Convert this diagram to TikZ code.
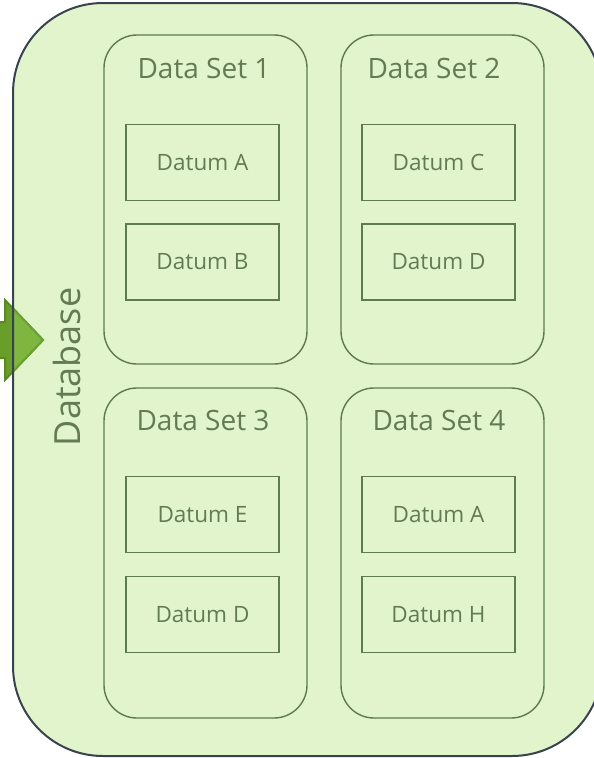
\documentclass[tikz,border=0pt]{standalone}
\usepackage{fontspec}
\setmainfont{Open Sans}
\begin{document}
\begin{tikzpicture}[x=1pt,y=-1pt,
  dbfill/.style={fill=dbgreen},
  setbox/.style={draw=setline, line width=1.4pt, rounded corners=33pt},
  datumbox/.style={draw=setline, line width=1.9pt, minimum width=153pt, minimum height=76pt,
    inner sep=0pt, font=\fontsize{22.5}{24}\selectfont, text=settext},
  settitle/.style={font=\fontsize{28}{30}\selectfont, text=settext}]
\definecolor{dbgreen}{HTML}{E2F4CC}
\definecolor{dbline}{HTML}{394350}
\definecolor{setline}{HTML}{5F7A4E}
\definecolor{settext}{HTML}{627B52}
\definecolor{arrowdark}{HTML}{6A9E2B}
\definecolor{arrowdarkline}{HTML}{5A8A22}
\definecolor{arrowlight}{HTML}{7EB640}
\definecolor{arrowlightline}{HTML}{6AA032}
\useasboundingbox (0,0) rectangle (594,758);
\clip (0,0) rectangle (594,758);

% database container
\path[dbfill, rounded corners=90pt] (13,3) rectangle (602,756);

% incoming block arrow
\coordinate (tip) at (43,340);
\path[fill=arrowdark, draw=arrowdarkline, line width=2pt, line join=miter]
  (-20,322) -- (5,322) -- (5,300) -- (tip) -- (5,380) -- (5,358) -- (-20,358) -- cycle;
\begin{scope}
  \clip[rounded corners=90pt] (13,3) rectangle (602,756);
  \path[fill=arrowlight, draw=arrowlightline, line width=2pt, line join=miter]
    (-20,322) -- (5,322) -- (5,300) -- (tip) -- (5,380) -- (5,358) -- (-20,358) -- cycle;
\end{scope}
\draw[dbline, line width=2pt, rounded corners=90pt] (13,3) rectangle (602,756);

\node[rotate=90, font=\fontsize{36}{38}\selectfont, text=settext] (db) at (67,367) {Database};

% data sets
\draw[setbox] (104,35) rectangle (307,364);
\draw[setbox] (341,35) rectangle (544,364);
\draw[setbox] (104,388) rectangle (307,718);
\draw[setbox] (341,388) rectangle (544,718);

\node[settitle] (s1) at (204,68) {Data Set 1};
\node[settitle] (s2) at (434,68) {Data Set 2};
\node[settitle] (s3) at (203,420) {Data Set 3};
\node[settitle] (s4) at (439,420) {Data Set 4};

% data items
\node[datumbox] (a1) at (202.5,162.5) {Datum A};
\node[datumbox] (b1) at (202.5,262) {Datum B};
\node[datumbox] (c2) at (438.5,162.5) {Datum C};
\node[datumbox] (d2) at (438.5,262) {Datum D};
\node[datumbox] (e3) at (202.5,514.5) {Datum E};
\node[datumbox] (d3) at (202.5,614.5) {Datum D};
\node[datumbox] (a4) at (438.5,514.5) {Datum A};
\node[datumbox] (h4) at (438.5,614.5) {Datum H};
\end{tikzpicture}
\end{document}
